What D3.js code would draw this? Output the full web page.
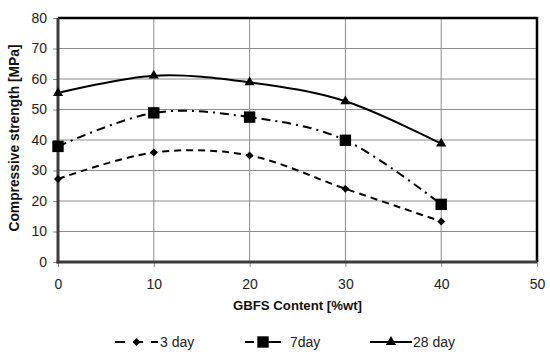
<!DOCTYPE html>
<html><head><meta charset="utf-8">
<script src="https://cdn.jsdelivr.net/npm/d3@7"></script>
<style>body{margin:0;background:#fff}text{font-family:"Liberation Sans",Arial,sans-serif}</style>
</head><body><svg id="c" width="550" height="359"></svg>
<script>
const xValues = [0, 10, 20, 30, 40];
const day3 = [27.2, 35.9, 34.9, 24.0, 13.3];
const day7 = [37.9, 48.9, 47.5, 39.9, 18.9];
const day28 = [55.4, 61.1, 58.9, 52.7, 38.8];
const xTicks = [0, 10, 20, 30, 40, 50];
const yTicks = [0, 10, 20, 30, 40, 50, 60, 70, 80];
const seriesNames = ["3 day", "7day", "28 day"];

const svg = d3.select("#c");
const x = d3.scaleLinear().domain([0, 50]).range([58, 537]);
const y = d3.scaleLinear().domain([0, 80]).range([262, 18]);

// grid
svg.append("g").selectAll("line.h").data(yTicks).join("line")
  .attr("x1", x(0)).attr("x2", x(50)).attr("y1", d => y(d)).attr("y2", d => y(d))
  .attr("stroke", "#8c8c8c").attr("stroke-width", 1);
svg.append("g").selectAll("line.v").data(xTicks).join("line")
  .attr("y1", y(0)).attr("y2", y(80)).attr("x1", d => x(d)).attr("x2", d => x(d))
  .attr("stroke", "#8c8c8c").attr("stroke-width", 1);

// frame top/right
svg.append("path").attr("d", `M${x(0)},${y(80)}H${x(50)}V${y(0)}`)
  .attr("fill", "none").attr("stroke", "#000").attr("stroke-width", 2.5);

// axes
const ya = svg.append("g").attr("transform", `translate(${x(0)},0)`)
  .call(d3.axisLeft(y).tickValues(yTicks).tickSize(5).tickPadding(6));
ya.select(".domain").remove();
ya.selectAll("line").attr("stroke", "#888");
ya.selectAll("text").attr("font-size", 14).attr("fill", "#222");
const xa = svg.append("g").attr("transform", `translate(0,${y(0)})`)
  .call(d3.axisBottom(x).tickValues(xTicks).tickSize(5).tickPadding(12));
xa.select(".domain").remove();
xa.selectAll("line").attr("stroke", "#888");
xa.selectAll("text").attr("font-size", 14).attr("fill", "#222");

svg.append("line").attr("x1", x(0)).attr("x2", x(0)).attr("y1", y(80)).attr("y2", y(0)+1.5)
  .attr("stroke", "#3c3c3c").attr("stroke-width", 3);
svg.append("line").attr("x1", x(0)-1.5).attr("x2", x(50)).attr("y1", y(0)).attr("y2", y(0))
  .attr("stroke", "#3c3c3c").attr("stroke-width", 3);

// titles
svg.append("text").attr("transform", `translate(19,${(y(0)+y(80))/2 - 2}) rotate(-90)`)
  .attr("text-anchor", "middle").attr("font-weight", "bold").attr("font-size", 13.8)
  .attr("fill", "#111").text("Compressive strength [MPa]");
svg.append("text").attr("x", (x(0)+x(50))/2).attr("y", 310)
  .attr("text-anchor", "middle").attr("font-weight", "bold").attr("font-size", 13.2)
  .attr("fill", "#111").text("GBFS Content [%wt]");

const series = [
  {name: seriesNames[0], vals: day3, dash: "7,5", sym: d3.symbolDiamond2, size: 40},
  {name: seriesNames[1], vals: day7, dash: "9,5,2,5", sym: d3.symbolSquare, size: 130},
  {name: seriesNames[2], vals: day28, dash: null, sym: d3.symbolTriangle, size: 45}
];
const line = d3.line().x((d, i) => x(xValues[i])).y(d => y(d)).curve(d3.curveCardinal.tension(0));

series.forEach(s => {
  svg.append("path").datum(s.vals).attr("d", line).attr("fill", "none")
    .attr("stroke", "#000").attr("stroke-width", 2).attr("stroke-dasharray", s.dash);
  svg.append("g").selectAll("path").data(s.vals).join("path")
    .attr("transform", (d, i) => `translate(${x(xValues[i])},${y(d)})`)
    .attr("d", d3.symbol().type(s.sym).size(s.size)).attr("fill", "#000");
});

// legend
const legX = [115, 245, 370];
const legW = [43, 36, 42];
const legTx = [160, 290, 413];
const ly = 342;
series.forEach((s, k) => {
  const g = svg.append("g");
  g.append("line").attr("x1", legX[k]).attr("x2", legX[k] + legW[k]).attr("y1", ly).attr("y2", ly)
    .attr("stroke", "#000").attr("stroke-width", 2).attr("stroke-dasharray", k === 0 ? "10,8" : (k === 1 ? "9,7,60" : null));
  g.append("path").attr("transform", `translate(${legX[k] + legW[k]/2},${ly})`)
    .attr("d", d3.symbol().type(s.sym).size(s.size)).attr("fill", "#000");
  g.append("text").attr("x", legTx[k]).attr("y", ly + 5).attr("font-size", 14)
    .attr("fill", "#222").text(s.name);
});
</script></body></html>
